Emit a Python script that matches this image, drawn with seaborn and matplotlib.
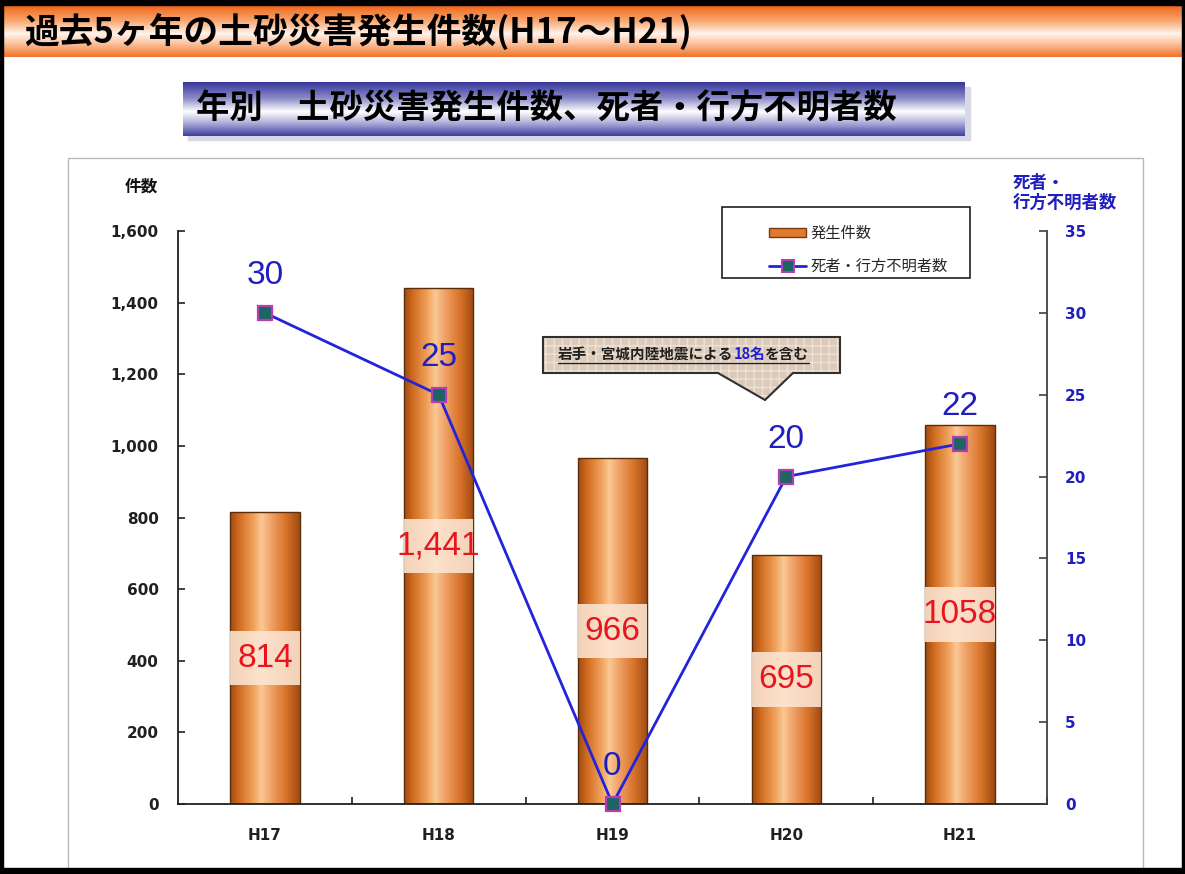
import numpy as np
import matplotlib
matplotlib.use("Agg")
import matplotlib.pyplot as plt
import seaborn as sns
from matplotlib.colors import LinearSegmentedColormap
from matplotlib.patches import Rectangle, Polygon, Patch
from matplotlib.lines import Line2D
from matplotlib.ticker import FuncFormatter

# ---------------- data ----------------
years = ["H17", "H18", "H19", "H20", "H21"]
counts = [814, 1441, 966, 695, 1058]
count_labels = ["814", "1,441", "966", "695", "1058"]
deaths = [30, 25, 0, 20, 22]
left_ticks = list(range(0, 1601, 200))
right_ticks = list(range(0, 36, 5))

title_main = "過去5ヶ年の土砂災害発生件数(H17～H21)"
title_sub = "年別　土砂災害発生件数、死者・行方不明者数"
left_label = "件数"
right_label = "死者・\n行方不明者数"
legend_bar = "発生件数"
legend_line = "死者・行方不明者数"
note_parts = ["岩手・宮城内陸地震による", "18名", "を含む"]

# ---------------- style ----------------
sns.set_style("white")
plt.rcParams["font.family"] = ["Noto Sans CJK JP", "DejaVu Sans"]

W, H = 1185, 874
fig = plt.figure(figsize=(W / 100, H / 100), dpi=100)
fig.patch.set_facecolor("white")

# background decoration axes (pixel coordinates)
bg = fig.add_axes([0, 0, 1, 1], zorder=-10)
bg.set_xlim(0, W)
bg.set_ylim(H, 0)
bg.axis("off")

# orange title banner
orange = LinearSegmentedColormap.from_list(
    "orng", [(0, "#EE6418"), (0.3, "#F9A66E"), (0.55, "#FFF3EC"), (0.75, "#FBC09A"), (1, "#F07228")])
grad_v = np.linspace(0, 1, 256).reshape(-1, 1)
bg.imshow(grad_v, extent=[0, W, 57, 5], cmap=orange, aspect="auto", zorder=1)
bg.add_patch(Rectangle((0, 0), W, 5, color="black", zorder=2))
bg.add_patch(Rectangle((0, 0), 3, H, color="black", zorder=2))
bg.add_patch(Rectangle((W - 3, 0), 3, H, color="black", zorder=2))
bg.add_patch(Rectangle((0, H - 6), W, 6, color="black", zorder=2))
bg.text(24, 32, title_main, fontsize=25, fontweight="bold", color="black",
        va="center", ha="left", zorder=3)

# blue subtitle bar
blue = LinearSegmentedColormap.from_list(
    "blu", [(0, "#34349A"), (0.3, "#8C8CC8"), (0.55, "#FFFFFF"), (0.8, "#9C9CD2"), (1, "#3C3CA4")])
bg.add_patch(Rectangle((188, 87), 782, 53, color="#D8D8E6", zorder=1))
bg.imshow(grad_v, extent=[183, 965, 136, 82], cmap=blue, aspect="auto", zorder=2)
bg.text(196, 109, title_sub, fontsize=24, fontweight="bold", color="black",
        va="center", ha="left", zorder=3)

# chart panel border
bg.add_patch(Rectangle((68, 158), 1143 - 68, H, facecolor="white",
                       edgecolor="#B8B8B8", lw=1, zorder=1))

# legend frame
bg.add_patch(Rectangle((722, 207), 248, 71, facecolor="white",
                       edgecolor="#202020", lw=1.2, zorder=3))

# axis titles
bg.text(141, 187, left_label, fontsize=12, fontweight="bold", color="#111111",
        ha="center", va="center", zorder=3)
bg.text(1013, 193, right_label, fontsize=12.5, fontweight="bold", color="#1F1FBF",
        ha="left", va="center", linespacing=1.15, zorder=3)

# ---------------- main axes ----------------
ax = fig.add_axes([178 / W, 1 - 804 / H, (1047 - 178) / W, (804 - 231) / H], zorder=1)
ax.set_facecolor("none")

sns.barplot(x=years, y=counts, ax=ax, width=0.4, color="#E07A30",
            edgecolor="#5A2E0A", linewidth=1.0, zorder=2)

bar_cmap = LinearSegmentedColormap.from_list(
    "bar", [(0, "#9C4A10"), (0.12, "#CF6A1E"), (0.33, "#F0A05A"), (0.45, "#FAC995"),
            (0.56, "#F3A870"), (0.8, "#D8732A"), (1, "#9E4A12")])
grad_h = np.linspace(0, 1, 256).reshape(1, -1)
for p in list(ax.patches):
    x0, y0 = p.get_x(), p.get_y()
    x1, y1 = x0 + p.get_width(), y0 + p.get_height()
    im = ax.imshow(grad_h, extent=[x0, x1, y0, y1], cmap=bar_cmap,
                   aspect="auto", zorder=2.1)
    im.set_clip_path(p)
    p.set_facecolor("none")
    p.set_zorder(2.2)

ax.set_xlim(-0.5, len(years) - 0.5)
ax.set_ylim(0, 1600)
ax.set_yticks(left_ticks)
ax.yaxis.set_major_formatter(FuncFormatter(lambda v, _: f"{int(v):,}"))
ax.set_xlabel("")
ax.set_ylabel("")

# value labels on bars
for i, (v, lab) in enumerate(zip(counts, count_labels)):
    ax.add_patch(Rectangle((i - 0.2, v / 2 - 76), 0.4, 152, facecolor="#FCE6D4",
                           alpha=0.88, edgecolor="none", zorder=2.5))
    ax.text(i, v / 2, lab, fontsize=24, color="#E8141E", ha="center", va="center",
            family="Liberation Sans", zorder=2.6)

for s in ["top", "right"]:
    ax.spines[s].set_visible(False)
for s in ["left", "bottom"]:
    ax.spines[s].set_color("#202020")
    ax.spines[s].set_linewidth(1.3)

ax.tick_params(axis="y", direction="in", length=5, width=1.2, pad=14,
               labelsize=11, colors="#202020", left=True)
ax.tick_params(axis="x", which="major", length=0, pad=17, labelsize=11)
ax.set_xticks(np.arange(len(years)) + 0.5, minor=True)
ax.tick_params(axis="x", which="minor", direction="in", length=5, width=1.2,
               bottom=True, colors="#202020")
for t in ax.get_yticklabels() + ax.get_xticklabels():
    t.set_fontweight("bold")
    t.set_family("DejaVu Sans")
    t.set_color("#202020")

# ---------------- right axes (line) ----------------
ax2 = ax.twinx()
ax2.set_zorder(2)
ax2.set_facecolor("none")
sns.lineplot(x=np.arange(len(years)), y=deaths, ax=ax2, color="#2323DC", lw=2,
             marker="s", markersize=10, markerfacecolor="#1E6464",
             markeredgecolor="#B43CB4", markeredgewidth=1.6, zorder=4, clip_on=False)
ax2.set_ylim(0, 35)
ax2.set_yticks(right_ticks)
ax2.set_xlim(-0.5, len(years) - 0.5)
ax2.set_ylabel("")
ax2.set_xlabel("")
for s in ["top", "left", "bottom"]:
    ax2.spines[s].set_visible(False)
ax2.spines["right"].set_color("#404040")
ax2.spines["right"].set_linewidth(1.3)
ax2.tick_params(axis="y", direction="in", length=6, width=1.2, pad=13,
                labelsize=11, labelcolor="#1F1FBF", color="#404040", right=True)
for t in ax2.get_yticklabels():
    t.set_fontweight("bold")
    t.set_family("DejaVu Sans")

for i, d in enumerate(deaths):
    ax2.annotate(str(d), (i, d), xytext=(0, 27), textcoords="offset points",
                 ha="center", va="center", fontsize=24, color="#1F1FBF",
                 family="Liberation Sans", zorder=5)

# ---------------- legend ----------------
handles = [
    Patch(facecolor="#E07A30", edgecolor="#7A3A0A"),
    Line2D([0], [0], color="#2323DC", lw=2, marker="s", markersize=8,
           markerfacecolor="#1E6464", markeredgecolor="#B43CB4", markeredgewidth=1.4),
]
leg = fig.legend(handles, [legend_bar, legend_line], loc="upper left",
                 bbox_to_anchor=(757 / W, 1 - 213 / H), frameon=False,
                 fontsize=11, handlelength=2.4, handleheight=0.5,
                 labelspacing=1.05, handletextpad=0.3, borderpad=0.3)
leg.set_zorder(20)

# ---------------- callout ----------------
fg = fig.add_axes([0, 0, 1, 1], zorder=5)
fg.set_xlim(0, W)
fg.set_ylim(H, 0)
fg.axis("off")
shape = [(543, 337), (840, 337), (840, 373), (793, 373), (765, 400),
         (718, 373), (543, 373)]
fg.add_patch(Polygon(shape, closed=True, facecolor="#DCCBBA", edgecolor="#EEE2D6",
                     hatch="++", lw=0, zorder=1))
fg.add_patch(Polygon(shape, closed=True, facecolor="none", edgecolor="#303030",
                     lw=1.5, zorder=2))

fig.canvas.draw()
renderer = fig.canvas.get_renderer()
x_cur = 558
pieces = []
colors = ["#202020", "#2020D0", "#202020"]
for part, c in zip(note_parts, colors):
    t = fg.text(x_cur, 354, part, fontsize=10.5, fontweight="bold", color=c,
                ha="left", va="center", zorder=3)
    bb = t.get_window_extent(renderer=renderer)
    x_cur += bb.width
    pieces.append(t)
fg.plot([558, x_cur], [363, 363], color="#202020", lw=1.0, zorder=3)

fig.savefig("out.png", dpi=100)
